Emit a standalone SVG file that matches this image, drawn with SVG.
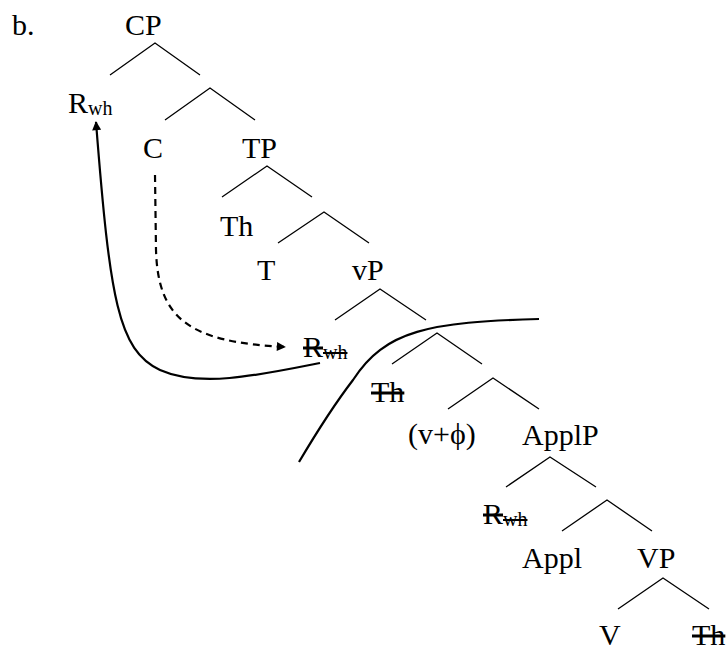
<svg xmlns="http://www.w3.org/2000/svg" width="728" height="651" viewBox="0 0 728 651">
<defs>
<style>
text{font-family:"Liberation Serif","Times New Roman",serif;font-size:30px;fill:#000}
.sub{font-size:20px}
.st{text-decoration:line-through}
.br{fill:none;stroke:#000;stroke-width:1.3}
.arr{fill:none;stroke:#000;stroke-width:2.2}
</style>
<marker id="ah" viewBox="0 0 10 10" refX="9" refY="5" markerWidth="10" markerHeight="9" markerUnits="userSpaceOnUse" orient="auto">
<path d="M0,0 L10,5 L0,10 Z" fill="#000"/>
</marker>
</defs>
<text x="12" y="35">b.</text>
<g id="CP"><text x="125" y="35">CP</text><path class="br" d="M110,75 L155,43 L200,75"/></g>
<g id="Rwh1"><text x="68" y="113">R<tspan class="sub" dy="2">wh</tspan></text></g>
<g id="Cbar"><path class="br" d="M165,120 L210,88 L255,120"/></g>
<g id="C"><text x="143" y="158">C</text></g>
<g id="TP"><text x="242" y="158">TP</text><path class="br" d="M222,197 L267,166 L312,197"/></g>
<g id="Th1"><text x="220" y="236">Th</text></g>
<g id="Tbar"><path class="br" d="M278,243 L324,212 L369,243"/></g>
<g id="T"><text x="257" y="280">T</text></g>
<g id="vP"><text x="352" y="280">vP</text><path class="br" d="M335,320 L380,289 L426,320"/></g>
<g id="Rwh2"><text x="303" y="357"><tspan class="st">R</tspan><tspan class="sub st" dy="2">wh</tspan></text></g>
<g id="vbar"><path class="br" d="M392,364 L437,333 L482,364"/></g>
<g id="Th2"><text x="371" y="402" class="st">Th</text></g>
<g id="vbar2"><path class="br" d="M448,409 L493,378 L539,409"/></g>
<g id="vphi"><text x="408" y="444">(v+ϕ)</text></g>
<g id="ApplP"><text x="522" y="445">ApplP</text><path class="br" d="M506,487 L550,457 L596,487"/></g>
<g id="Rwh3"><text x="483" y="524"><tspan class="st">R</tspan><tspan class="sub st" dy="2">wh</tspan></text></g>
<g id="Applbar"><path class="br" d="M562,531 L607,500 L652,531"/></g>
<g id="Appl"><text x="522" y="568">Appl</text></g>
<g id="VP"><text x="637" y="568">VP</text><path class="br" d="M618,609 L663,578 L709,609"/></g>
<g id="V"><text x="599" y="645">V</text></g>
<g id="Th3"><text x="692" y="645" class="st">Th</text></g>
<g id="connectors">
<path class="arr" d="M320,363 C260,375 200,388 160,370 C118,350 110,300 96,122" marker-end="url(#ah)"/>
<path class="arr" stroke-dasharray="7,5" d="M155,175 L156,250 C158,320 190,342 285,347" marker-end="url(#ah)"/>
<path class="arr" d="M539,319 C430,322 385,330 353,380 C330,410 315,435 299,462"/>
</g>
</svg>
